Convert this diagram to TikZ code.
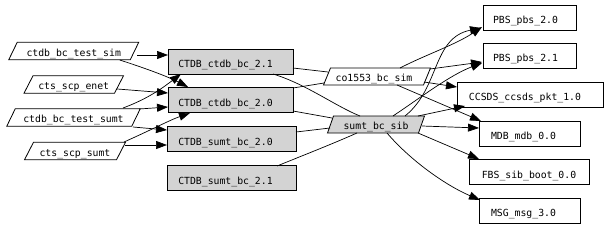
\documentclass[tikz,border=0pt]{standalone}
\usepackage{fontspec}
\newfontfamily\gvfont{DejaVu Sans Mono}
\usetikzlibrary{arrows.meta,calc,backgrounds}
\definecolor{boxgray}{HTML}{D3D3D3}
\begin{document}
\begin{tikzpicture}[x=1pt,y=-1pt,
  every node/.style={font=\gvfont\fontsize{9.8}{12}\selectfont, inner sep=0pt, outer sep=0pt},
  box/.style={draw=black, line width=0.8pt, minimum height=25pt, text height=12pt, text depth=0pt},
  gbox/.style={box, fill=boxgray},
  para/.style={minimum height=17.5pt, text height=10pt, text depth=0pt},
  tleft/.style={execute at end node={\hspace*{#1}}},
  arr/.style={line width=0.7pt, -{Triangle[length=11pt,width=8pt]}},
  ln/.style={line width=0.7pt}]
\useasboundingbox (0,0) rectangle (608,228);

% left parallelograms
\node[para, minimum width=121.5pt] (tsim)  at (73.75,51)  {ctdb\_bc\_test\_sim};
\node[para, minimum width=90.5pt]  (enet)  at (73.75,84.5) {cts\_scp\_enet};
\node[para, minimum width=125pt]   (tsumt) at (73.5,117.5) {ctdb\_bc\_test\_sumt};
\node[para, minimum width=92pt]    (ssumt) at (75,151)    {cts\_scp\_sumt};

% gray boxes
\node[gbox, tleft=10pt, minimum width=125pt] (c21) at (230.5,61.5) {CTDB\_ctdb\_bc\_2.1};
\node[gbox, tleft=10pt, minimum width=125pt] (c20) at (230.5,100)  {CTDB\_ctdb\_bc\_2.0};
\node[gbox, tleft=12pt, minimum width=129pt] (s20) at (231.5,139)  {CTDB\_sumt\_bc\_2.0};
\node[gbox, tleft=12pt, minimum width=129pt] (s21) at (231.5,178)  {CTDB\_sumt\_bc\_2.1};

% middle parallelograms
\node[para, tleft=6pt, minimum width=100pt, minimum height=17pt] (co)  at (377,76.5)  {co1553\_bc\_sim};
\node[para, minimum width=91pt,  minimum height=17pt] (sib) at (376,124.5) {sumt\_bc\_sib};

% right boxes
\node[box, tleft=8pt, minimum width=93pt]  (p20)   at (529.5,17.5)  {PBS\_pbs\_2.0};
\node[box, tleft=8pt, minimum width=93pt]  (p21)   at (529.5,55.5)  {PBS\_pbs\_2.1};
\node[box, tleft=10pt, minimum width=146pt] (ccsds) at (530,94.5)    {CCSDS\_ccsds\_pkt\_1.0};
\node[box, tleft=12pt, minimum width=101pt] (mdb)   at (529.5,133.5) {MDB\_mdb\_0.0};
\node[box, minimum width=120pt] (fbs)   at (529,172)     {FBS\_sib\_boot\_0.0};
\node[box, tleft=12pt, minimum width=101pt] (msg)   at (529.5,210.5) {MSG\_msg\_3.0};

% parallelogram outlines
\begin{scope}[on background layer]
\foreach \n/\s/\f in {tsim/4.25/white, enet/4.5/white, tsumt/4.25/white, ssumt/4.5/white, co/3.5/white, sib/3/boxgray}
  \draw[line width=0.8pt, fill=\f] ($(\n.south west)+(-\s,0)$) -- ($(\n.north west)+(\s,0)$)
     -- ($(\n.north east)+(\s,0)$) -- ($(\n.south east)+(-\s,0)$) -- cycle;
\end{scope}

% left edges
\draw[arr] ($(tsim)+(63.25,4)$) -- ($(c21)+(-62.5,-6.5)$);
\draw[arr] ($(tsim)+(46,9)$) .. controls ($(tsim)+(80,20)$) and ($(c20)+(-60,-22)$) .. ($(c20)+(-42.5,-13)$);
\draw[arr] ($(enet)+(43.5,4.5)$) -- ($(c20)+(-62.5,-7)$);
\draw[arr] ($(tsumt)+(49.5,-9.5)$) .. controls ($(tsumt)+(76.5,-19.5)$) and ($(c21)+(-65.5,24.5)$) .. ($(c21)+(-49.5,12.5)$);
\draw[arr] ($(tsumt)+(65.5,-8.5)$) -- ($(c20)+(-62.5,7)$);
\draw[arr] ($(tsumt)+(59.5,9.5)$) -- ($(s20)+(-64.5,-9)$);
\draw[arr] ($(ssumt)+(49,-9)$) .. controls ($(ssumt)+(76,-21)$) and ($(c20)+(-60.5,20)$) .. ($(c20)+(-40.5,13)$);
\draw[arr] ($(ssumt)+(50,-6)$) -- ($(s20)+(-64.5,6)$);

% middle lines
\draw[ln] ($(c21)+(62.5,6.5)$) -- ($(co)+(-49,-4.5)$);
\draw[ln] ($(c21)+(42.5,12.5)$) .. controls ($(c21)+(75.5,22.5)$) and ($(sib)+(-40,-18)$) .. ($(sib)+(-16,-8.5)$);
\draw[ln] ($(c20)+(62.5,-12)$) -- ($(co)+(-53,6.5)$);
\draw[ln] ($(c20)+(62.5,11)$) -- ($(sib)+(-44,-6.5)$);
\draw[ln] ($(s20)+(64.5,-7)$) -- ($(sib)+(-46,3.5)$);
\draw[ln] ($(s21)+(45.5,-12)$) .. controls ($(s21)+(75,-24)$) and ($(sib)+(-45,20)$) .. ($(sib)+(-19,8.5)$);

% right edges from co1553_bc_sim
\draw[arr] ($(co)+(23,-8.5)$) .. controls ($(co)+(48,-21.5)$) and ($(p20)+(-74.5,27.5)$) .. ($(p20)+(-47.5,9.5)$);
\draw[arr] ($(co)+(53,-7.5)$) -- ($(p21)+(-47.5,6.5)$);
\draw[arr] ($(co)+(47,5.5)$) -- ($(ccsds)+(-73,-7.5)$);
\draw[arr] ($(co)+(20,8.5)$) -- ($(mdb)+(-48.5,-12.5)$);

% right edges from sumt_bc_sib
\draw[arr] ($(sib)+(29,-8.5)$) .. controls ($(sib)+(64,-36.5)$) and ($(p20)+(-97.5,20.5)$) .. ($(p20)+(-48.5,10.5)$);
\draw[arr] ($(sib)+(17,-8.5)$) .. controls ($(sib)+(44,-26.5)$) and ($(p21)+(-79.5,19.5)$) .. ($(p21)+(-47.5,7.5)$);
\draw[arr] ($(sib)+(42,-8.5)$) -- ($(ccsds)+(-65,11.5)$);
\draw[arr] ($(sib)+(46,1.5)$) -- ($(mdb)+(-50.5,-5.5)$);
\draw[arr] ($(sib)+(42,8.5)$) -- ($(fbs)+(-50,-13)$);
\draw[arr] ($(sib)+(11,8.5)$) .. controls ($(sib)+(34,35.5)$) and ($(msg)+(-84.5,-25.5)$) .. ($(msg)+(-49.5,-10.5)$);
\end{tikzpicture}
\end{document}
